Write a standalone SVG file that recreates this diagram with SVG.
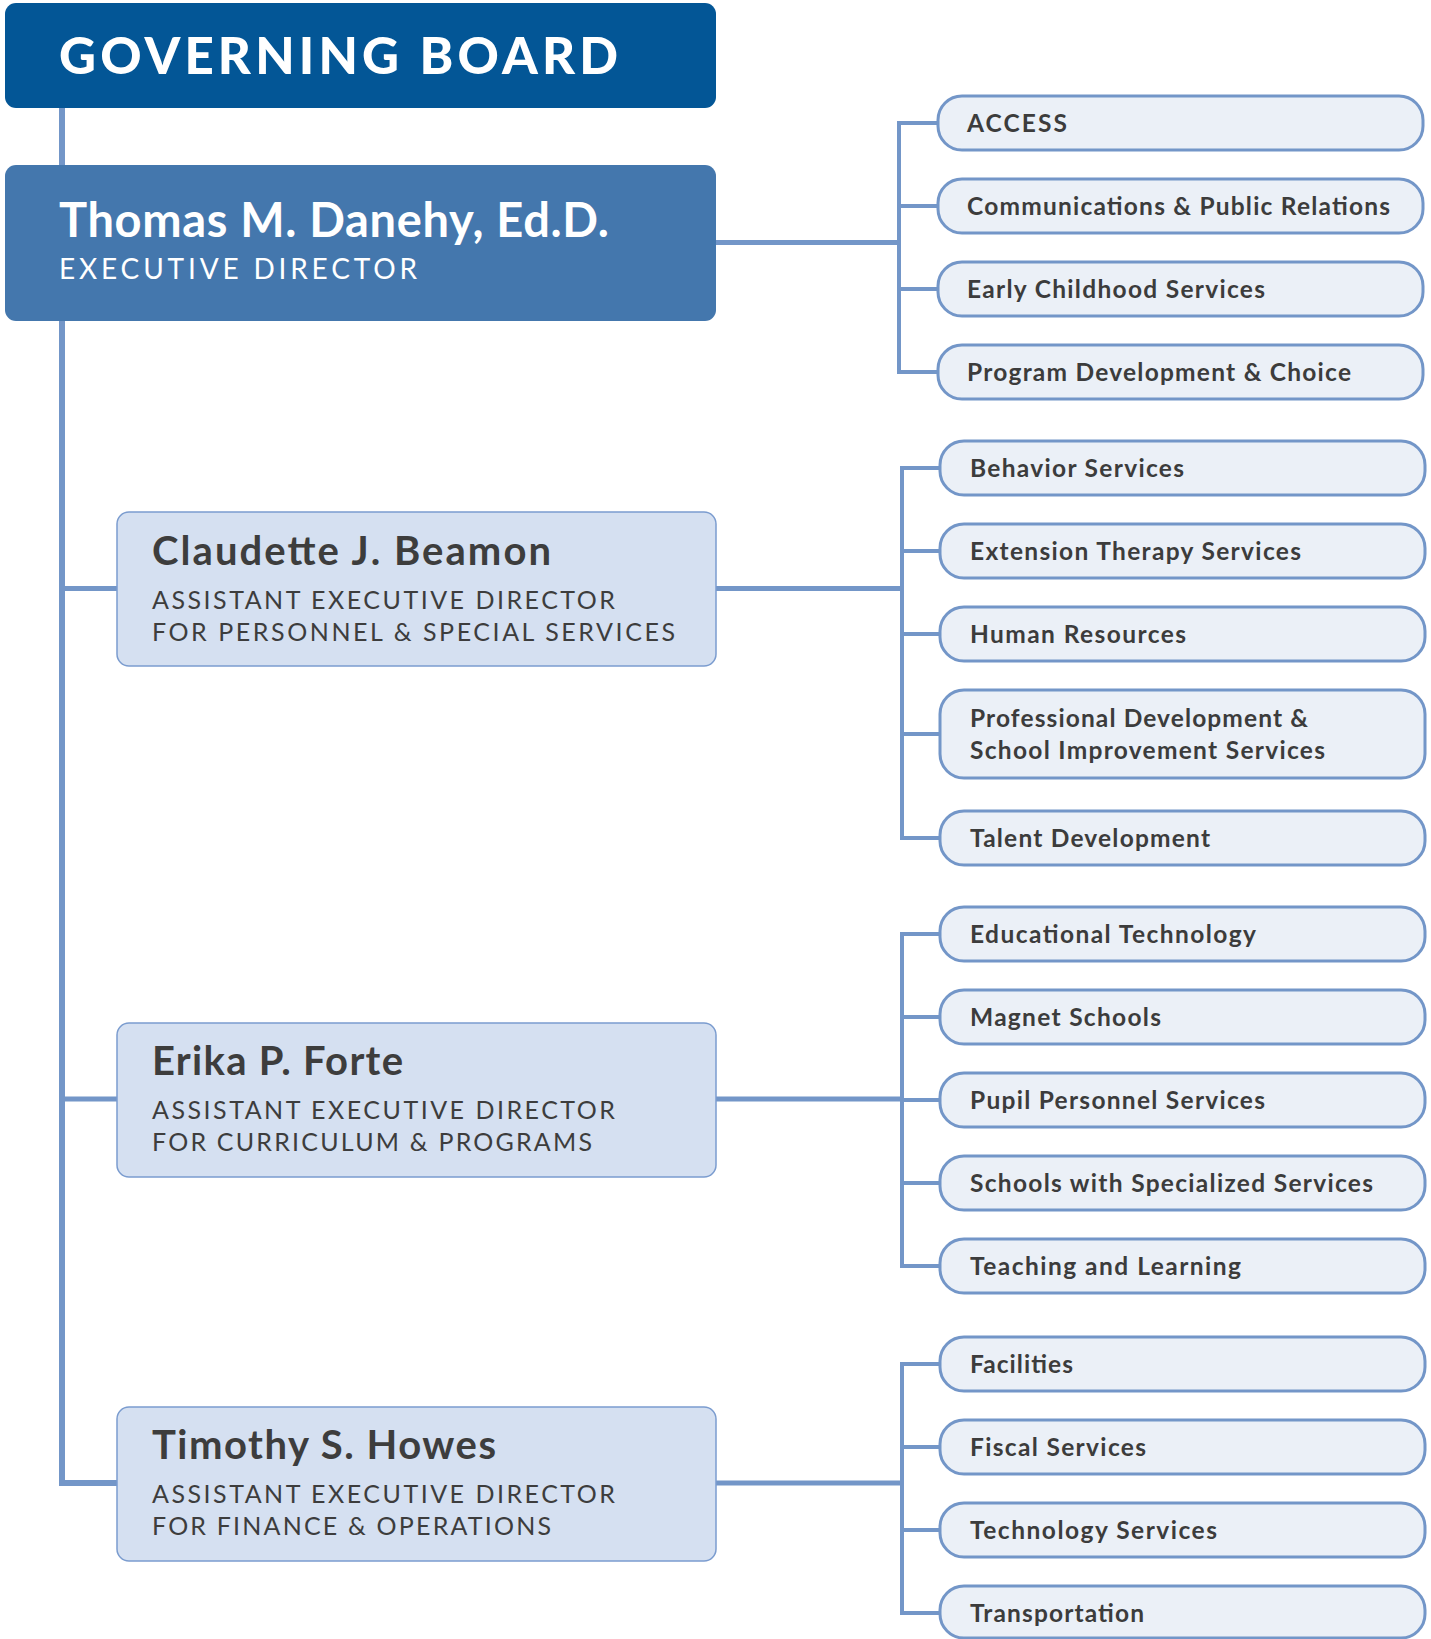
<svg xmlns="http://www.w3.org/2000/svg" width="1431" height="1639" viewBox="0 0 1431 1639">
<style>
.bg{fill:#ffffff}
.gov{fill:#035696}
.exec{fill:#4477ad}
.aed{fill:#d5e0f1;stroke:#7b9ccf;stroke-width:1.5}
.svc{fill:#ebf0f7;stroke:#7396c8;stroke-width:3}
.conn{fill:none;stroke:#7396c8;stroke-linecap:butt;stroke-linejoin:miter}
.trunk{stroke-width:6}
.main{stroke-width:5}
.br{stroke-width:4}
.t-gov{font-family:Lato,"Liberation Sans",sans-serif;font-weight:900;font-size:51px;fill:#ffffff}
.t-exname{font-family:Lato,"Liberation Sans",sans-serif;font-weight:700;font-size:47px;fill:#ffffff}
.t-exsub{font-family:Lato,"Liberation Sans",sans-serif;font-weight:400;font-size:28px;fill:#ffffff}
.t-name{font-family:Lato,"Liberation Sans",sans-serif;font-weight:700;font-size:40px;fill:#3d3d3d}
.t-sub{font-family:Lato,"Liberation Sans",sans-serif;font-weight:400;font-size:25px;fill:#3d3d3d}
.t-svc{font-family:Lato,"Liberation Sans",sans-serif;font-weight:700;font-size:24.5px;fill:#3c3c3c}
</style>
<rect class="bg" x="0" y="0" width="1431" height="1639"/>

<g id="connectors">
  <polyline class="conn trunk" points="62,105 62,1483 117,1483"/>
  <line class="conn main" x1="62" y1="588.5" x2="117" y2="588.5"/>
  <line class="conn main" x1="62" y1="1099" x2="117" y2="1099"/>
  <line class="conn main" x1="716" y1="242.5" x2="899" y2="242.5"/>
  <line class="conn main" x1="716" y1="588.5" x2="902" y2="588.5"/>
  <line class="conn main" x1="716" y1="1099" x2="902" y2="1099"/>
  <line class="conn main" x1="716" y1="1483" x2="902" y2="1483"/>
  <polyline class="conn br" points="938,123 899,123 899,372 938,372"/>
  <line class="conn br" x1="899" y1="206" x2="938" y2="206"/>
  <line class="conn br" x1="899" y1="289" x2="938" y2="289"/>
  <polyline class="conn br" points="940,468 902,468 902,838 940,838"/>
  <line class="conn br" x1="902" y1="551" x2="940" y2="551"/>
  <line class="conn br" x1="902" y1="634" x2="940" y2="634"/>
  <line class="conn br" x1="902" y1="734" x2="940" y2="734"/>
  <polyline class="conn br" points="940,934 902,934 902,1266 940,1266"/>
  <line class="conn br" x1="902" y1="1017" x2="940" y2="1017"/>
  <line class="conn br" x1="902" y1="1100" x2="940" y2="1100"/>
  <line class="conn br" x1="902" y1="1183" x2="940" y2="1183"/>
  <polyline class="conn br" points="940,1364 902,1364 902,1613 940,1613"/>
  <line class="conn br" x1="902" y1="1447" x2="940" y2="1447"/>
  <line class="conn br" x1="902" y1="1530" x2="940" y2="1530"/>
</g>

<g id="governing-board">
  <rect class="gov" x="5" y="3" width="711" height="105" rx="11"/>
  <text class="t-gov" x="59" y="73.5" textLength="559" lengthAdjust="spacing">GOVERNING BOARD</text>
</g>

<g id="executive-director">
  <rect class="exec" x="5" y="165" width="711" height="156" rx="11"/>
  <text class="t-exname" x="59" y="237" textLength="550" lengthAdjust="spacing">Thomas M. Danehy, Ed.D.</text>
  <text class="t-exsub" x="59" y="279" textLength="358" lengthAdjust="spacing">EXECUTIVE DIRECTOR</text>
</g>

<g id="beamon">
  <rect class="aed" x="117" y="512" width="599" height="154" rx="12"/>
  <text class="t-name" x="152" y="565" textLength="399" lengthAdjust="spacing">Claudette J. Beamon</text>
  <text class="t-sub" x="152" y="609" textLength="463" lengthAdjust="spacing">ASSISTANT EXECUTIVE DIRECTOR</text>
  <text class="t-sub" x="152" y="641" textLength="523" lengthAdjust="spacing">FOR PERSONNEL &amp; SPECIAL SERVICES</text>
</g>

<g id="forte">
  <rect class="aed" x="117" y="1023" width="599" height="154" rx="12"/>
  <text class="t-name" x="152" y="1075" textLength="251" lengthAdjust="spacing">Erika P. Forte</text>
  <text class="t-sub" x="152" y="1119" textLength="463" lengthAdjust="spacing">ASSISTANT EXECUTIVE DIRECTOR</text>
  <text class="t-sub" x="152" y="1151" textLength="440" lengthAdjust="spacing">FOR CURRICULUM &amp; PROGRAMS</text>
</g>

<g id="howes">
  <rect class="aed" x="117" y="1407" width="599" height="154" rx="12"/>
  <text class="t-name" x="152" y="1459" textLength="344" lengthAdjust="spacing">Timothy S. Howes</text>
  <text class="t-sub" x="152" y="1503" textLength="463" lengthAdjust="spacing">ASSISTANT EXECUTIVE DIRECTOR</text>
  <text class="t-sub" x="152" y="1535" textLength="399" lengthAdjust="spacing">FOR FINANCE &amp; OPERATIONS</text>
</g>

<g id="access">
  <rect class="svc" x="938" y="96" width="485" height="54" rx="24"/>
  <text class="t-svc" x="967" y="131.5" textLength="100" lengthAdjust="spacing">ACCESS</text>
</g>
<g id="communications">
  <rect class="svc" x="938" y="179" width="485" height="54" rx="24"/>
  <text class="t-svc" x="967" y="214.5" textLength="423" lengthAdjust="spacing">Communications &amp; Public Relations</text>
</g>
<g id="early-childhood">
  <rect class="svc" x="938" y="262" width="485" height="54" rx="24"/>
  <text class="t-svc" x="967" y="297.5" textLength="298" lengthAdjust="spacing">Early Childhood Services</text>
</g>
<g id="program-development">
  <rect class="svc" x="938" y="345" width="485" height="54" rx="24"/>
  <text class="t-svc" x="967" y="380.5" textLength="384" lengthAdjust="spacing">Program Development &amp; Choice</text>
</g>

<g id="behavior">
  <rect class="svc" x="940" y="441" width="485" height="54" rx="24"/>
  <text class="t-svc" x="970" y="476.5" textLength="214" lengthAdjust="spacing">Behavior Services</text>
</g>
<g id="extension-therapy">
  <rect class="svc" x="940" y="524" width="485" height="54" rx="24"/>
  <text class="t-svc" x="970" y="559.5" textLength="331" lengthAdjust="spacing">Extension Therapy Services</text>
</g>
<g id="human-resources">
  <rect class="svc" x="940" y="607" width="485" height="54" rx="24"/>
  <text class="t-svc" x="970" y="642.5" textLength="216" lengthAdjust="spacing">Human Resources</text>
</g>
<g id="professional-development">
  <rect class="svc" x="940" y="690" width="485" height="88" rx="24"/>
  <text class="t-svc" x="970" y="726.5" textLength="338" lengthAdjust="spacing">Professional Development &amp;</text>
  <text class="t-svc" x="970" y="758.5" textLength="355" lengthAdjust="spacing">School Improvement Services</text>
</g>
<g id="talent-development">
  <rect class="svc" x="940" y="811" width="485" height="54" rx="24"/>
  <text class="t-svc" x="970" y="846.5" textLength="240" lengthAdjust="spacing">Talent Development</text>
</g>

<g id="educational-technology">
  <rect class="svc" x="940" y="907" width="485" height="54" rx="24"/>
  <text class="t-svc" x="970" y="942.5" textLength="286" lengthAdjust="spacing">Educational Technology</text>
</g>
<g id="magnet-schools">
  <rect class="svc" x="940" y="990" width="485" height="54" rx="24"/>
  <text class="t-svc" x="970" y="1025.5" textLength="191" lengthAdjust="spacing">Magnet Schools</text>
</g>
<g id="pupil-personnel">
  <rect class="svc" x="940" y="1073" width="485" height="54" rx="24"/>
  <text class="t-svc" x="970" y="1108.5" textLength="295" lengthAdjust="spacing">Pupil Personnel Services</text>
</g>
<g id="specialized-services">
  <rect class="svc" x="940" y="1156" width="485" height="54" rx="24"/>
  <text class="t-svc" x="970" y="1191.5" textLength="403" lengthAdjust="spacing">Schools with Specialized Services</text>
</g>
<g id="teaching-learning">
  <rect class="svc" x="940" y="1239" width="485" height="54" rx="24"/>
  <text class="t-svc" x="970" y="1274.5" textLength="271" lengthAdjust="spacing">Teaching and Learning</text>
</g>

<g id="facilities">
  <rect class="svc" x="940" y="1337" width="485" height="54" rx="24"/>
  <text class="t-svc" x="970" y="1372.5" textLength="103" lengthAdjust="spacing">Facilities</text>
</g>
<g id="fiscal-services">
  <rect class="svc" x="940" y="1420" width="485" height="54" rx="24"/>
  <text class="t-svc" x="970" y="1455.5" textLength="176" lengthAdjust="spacing">Fiscal Services</text>
</g>
<g id="technology-services">
  <rect class="svc" x="940" y="1503" width="485" height="54" rx="24"/>
  <text class="t-svc" x="970" y="1538.5" textLength="247" lengthAdjust="spacing">Technology Services</text>
</g>
<g id="transportation">
  <rect class="svc" x="940" y="1586" width="485" height="52" rx="24"/>
  <text class="t-svc" x="970" y="1621.5" textLength="174" lengthAdjust="spacing">Transportation</text>
</g>
</svg>
